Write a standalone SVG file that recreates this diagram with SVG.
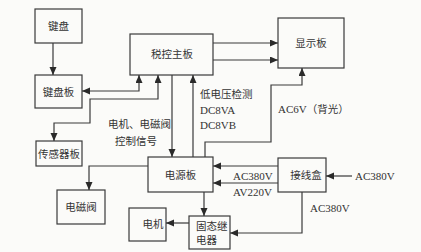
<svg xmlns="http://www.w3.org/2000/svg" width="421" height="252" viewBox="0 0 421 252">
<style>
.box{fill:none;stroke:#3a3a3a;stroke-width:1.2}
.ln{fill:none;stroke:#3a3a3a;stroke-width:1.2}
.cn{font-family:"Noto Sans CJK SC","Noto Sans",sans-serif;font-size:10.5px;fill:#333}
.lt{font-family:"Liberation Serif",serif;font-size:11px;fill:#333}
</style>
<defs>
<marker id="ar" markerUnits="userSpaceOnUse" markerWidth="9" markerHeight="8" refX="8" refY="3.5" orient="auto-start-reverse">
<path d="M0,0 L8,3.5 L0,7 z" fill="#2a2a2a"/>
</marker>
</defs>
<rect width="421" height="252" fill="#fbfbf9"/>
<g id="jianpan"><rect class="box" x="35" y="9" width="47" height="34"/><text class="cn" x="58.5" y="30" text-anchor="middle">键盘</text></g>
<g id="jianpanban"><rect class="box" x="35" y="75" width="47" height="33"/><text class="cn" x="58.5" y="95.5" text-anchor="middle">键盘板</text></g>
<g id="chuanganqi"><rect class="box" x="36" y="141" width="46" height="25"/><text class="cn" x="59" y="157.5" text-anchor="middle">传感器板</text></g>
<g id="shuikong"><rect class="box" x="130" y="34" width="83" height="41"/><text class="cn" x="172" y="58" text-anchor="middle">税控主板</text></g>
<g id="xianshi"><rect class="box" x="278" y="18" width="66" height="50"/><text class="cn" x="311" y="47" text-anchor="middle">显示板</text></g>
<g id="dianyuan"><rect class="box" x="148" y="157" width="65" height="35"/><text class="cn" x="180.5" y="179" text-anchor="middle">电源板</text></g>
<g id="diancifa"><rect class="box" x="57" y="190" width="48" height="34"/><text class="cn" x="81" y="211" text-anchor="middle">电磁阀</text></g>
<g id="dianji"><rect class="box" x="129" y="208" width="37" height="33"/><text class="cn" x="153" y="228" text-anchor="middle">电机</text></g>
<g id="gutai"><rect class="box" x="189" y="216" width="41" height="33"/><text class="cn" x="196" y="230">固态继</text><text class="cn" x="196" y="244">电器</text></g>
<g id="jiexian"><rect class="box" x="278" y="158" width="48" height="34"/><text class="cn" x="306" y="179" text-anchor="middle">接线盒</text></g>
<g id="connectors">
<path class="ln" d="M53,43 V75" marker-end="url(#ar)"/>
<path class="ln" d="M139,75 V91 H82" marker-start="url(#ar)" marker-end="url(#ar)"/>
<path class="ln" d="M158,75 V99 H90 V123 H54 V141" marker-start="url(#ar)" marker-end="url(#ar)"/>
<path class="ln" d="M172,75 V157" marker-end="url(#ar)"/>
<path class="ln" d="M193,157 V75" marker-end="url(#ar)"/>
<path class="ln" d="M213,43 H278" marker-end="url(#ar)"/>
<path class="ln" d="M213,60 H278" marker-end="url(#ar)"/>
<path class="ln" d="M205,157 V142 H271 V85 H302 V68" marker-end="url(#ar)"/>
<path class="ln" d="M148,166 H89 V190" marker-end="url(#ar)"/>
<path class="ln" d="M204,192 V216" marker-end="url(#ar)"/>
<path class="ln" d="M189,223 H166" marker-end="url(#ar)"/>
<path class="ln" d="M278,166 H213" marker-end="url(#ar)"/>
<path class="ln" d="M278,183 H213" marker-end="url(#ar)"/>
<path class="ln" d="M352,176 H326" marker-end="url(#ar)"/>
<path class="ln" d="M302,192 V233 H230" marker-end="url(#ar)"/>
</g>
<g id="labels">
<text class="cn" x="200" y="97.5">低电压检测</text>
<text class="lt" x="200" y="113.5">DC8VA</text>
<text class="lt" x="200" y="129">DC8VB</text>
<text class="cn" x="108" y="128">电机、电磁阀</text>
<text class="cn" x="115" y="145">控制信号</text>
<text x="278" y="113"><tspan class="lt">AC6V</tspan><tspan class="cn">（背光）</tspan></text>
<text class="lt" x="233" y="179.5">AC380V</text>
<text class="lt" x="233" y="196">AV220V</text>
<text class="lt" x="355" y="180">AC380V</text>
<text class="lt" x="310" y="212">AC380V</text>
</g>
</svg>
